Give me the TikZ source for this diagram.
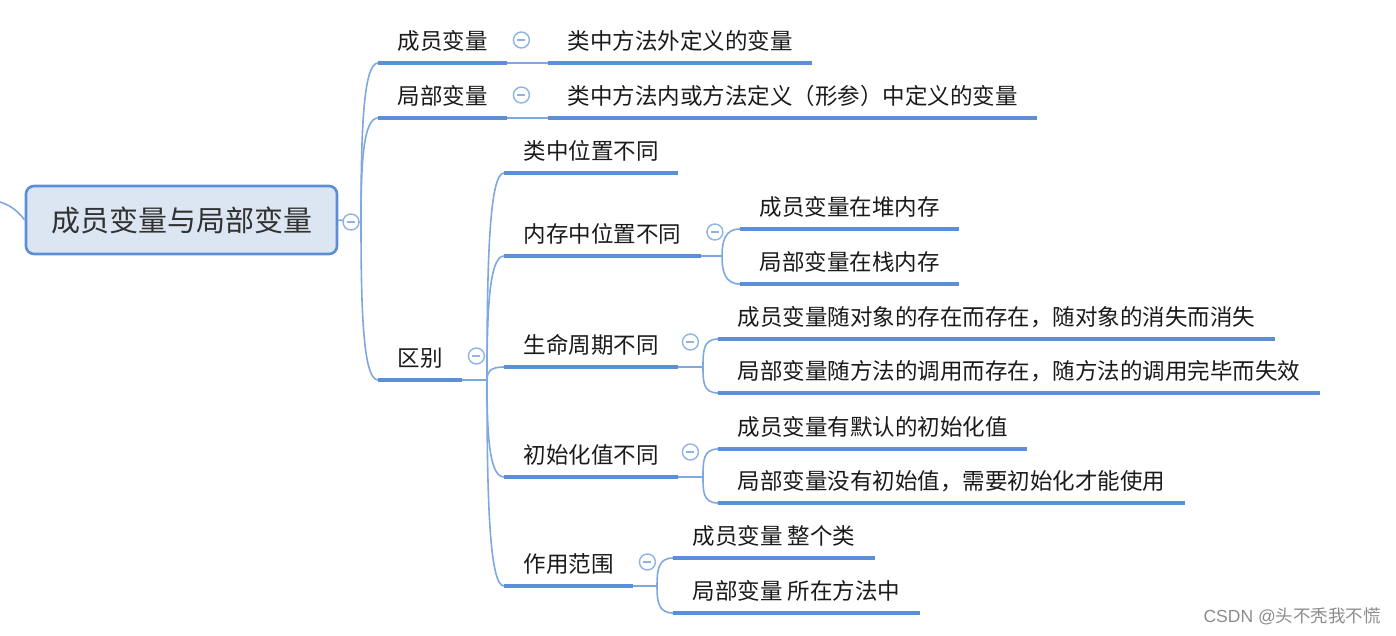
\documentclass[tikz,border=0pt]{standalone}
\usepackage{fontspec}
\setmainfont{Noto Sans CJK SC}
\newfontfamily\latinwm{Liberation Sans}
\usetikzlibrary{calc}
\definecolor{ulblue}{HTML}{5B8FD6}
\definecolor{lnblue}{HTML}{7FA8E0}
\definecolor{rootfill}{HTML}{DCE6F2}
\definecolor{rootdraw}{HTML}{5B8ED6}
\definecolor{txt}{HTML}{1A1A1A}
\definecolor{icon}{HTML}{8FB3E3}
\begin{document}
\begin{tikzpicture}[x=1pt,y=-1pt,
  topic/.style={anchor=south west, inner xsep=19.5pt, inner ysep=0pt,
    text height=18pt, text depth=13.6pt,
    font=\fontsize{22.5}{27}\selectfont, text=txt},
  rootbox/.style={rectangle, rounded corners=8pt, fill=rootfill, draw=rootdraw,
    line width=2.6pt, minimum width=311pt, minimum height=68pt,
    font=\fontsize{29}{34}\selectfont, text=txt!90},
  ul/.style={draw=ulblue, line width=4.5pt},
  conn/.style={draw=lnblue, line width=1.6pt},
  branch/.style={to path={.. controls ($(\tikztostart)!0.55!(\tikztostart|-\tikztotarget)$) and ($(\tikztotarget)+(-15,0)$) .. (\tikztotarget)}},
  fold/.style={circle, draw=icon, fill=white, line width=1.4pt, minimum size=16pt,
    inner sep=0pt, path picture={\draw[icon, line width=1.4pt]
      ([xshift=-4pt]path picture bounding box.center) --
      ([xshift=4pt]path picture bounding box.center);}},
  wmark/.style={anchor=east, text=black!45, font=\fontsize{17.5}{20}\selectfont, inner sep=0pt}
]
\useasboundingbox (0,0) rectangle (1396,636);

% root
\node[rootbox] (root) at (181.5,220) {成员变量与局部变量};
\coordinate (lin) at (0,202);

% level 1
\node[topic] (a1) at (378,63) {成员变量};
\node[topic] (a2) at (378,118) {局部变量};
\node[topic] (a3) at (378,380) {区别};
\node[topic] (b1) at (548,63) {类中方法外定义的变量};
\node[topic] (b2) at (548,118) {类中方法内或方法定义（形参）中定义的变量};

% level 2
\node[topic] (c1) at (504,173) {类中位置不同};
\node[topic] (c2) at (504,256) {内存中位置不同};
\node[topic] (c3) at (504,367) {生命周期不同};
\node[topic] (c4) at (504,477) {初始化值不同};
\node[topic] (c5) at (504,586) {作用范围};

% level 3
\node[topic] (d1) at (740,229) {成员变量在堆内存};
\node[topic] (d2) at (740,284) {局部变量在栈内存};
\node[topic] (e1) at (718,339) {成员变量随对象的存在而存在，随对象的消失而消失};
\node[topic] (e2) at (718,393) {局部变量随方法的调用而存在，随方法的调用完毕而失效};
\node[topic] (f1) at (718,449) {成员变量有默认的初始化值};
\node[topic] (f2) at (718,503) {局部变量没有初始值，需要初始化才能使用};
\node[topic] (g1) at (673,558) {成员变量 整个类};
\node[topic] (g2) at (673,613) {局部变量 所在方法中};

% underlines
\foreach \n in {a1,a2,a3,b1,b2,c1,c2,c3,c4,c5,d1,d2,e1,e2,f1,f2,g1,g2}
  \draw[ul] (\n.south west) -- (\n.south east);

% junctions
\coordinate (j0) at (361,222);
\coordinate (j3) at (487,380);
\coordinate (j4) at (722,256);
\coordinate (j5) at (703,367);
\coordinate (j6) at (703,477);
\coordinate (j7) at (657,586);

% connectors
\draw[conn] (lin) .. controls (13,206) and (20,214) .. (root.west);
\draw[conn] (root.east) -- (j0);
\draw[conn] (j0) to[branch] (a1.south west);
\draw[conn] (j0) to[branch] (a2.south west);
\draw[conn] (j0) to[branch] (a3.south west);
\draw[conn] (a1.south east) -- (b1.south west);
\draw[conn] (a2.south east) -- (b2.south west);
\draw[conn] (a3.south east) -- (j3);
\foreach \n in {c1,c2,c3,c4,c5} \draw[conn] (j3) to[branch] (\n.south west);
\draw[conn] (c2.south east) -- (j4);
\draw[conn] (j4) to[branch] (d1.south west);
\draw[conn] (j4) to[branch] (d2.south west);
\draw[conn] (c3.south east) -- (j5);
\draw[conn] (j5) to[branch] (e1.south west);
\draw[conn] (j5) to[branch] (e2.south west);
\draw[conn] (c4.south east) -- (j6);
\draw[conn] (j6) to[branch] (f1.south west);
\draw[conn] (j6) to[branch] (f2.south west);
\draw[conn] (c5.south east) -- (j7);
\draw[conn] (j7) to[branch] (g1.south west);
\draw[conn] (j7) to[branch] (g2.south west);

% fold icons
\node[fold] (fr) at (351,222) {};
\node[fold] (fa1) at ($(a1.south east)+(14,-23)$) {};
\node[fold] (fa2) at ($(a2.south east)+(14,-23)$) {};
\node[fold] (fa3) at ($(a3.south east)+(14,-24)$) {};
\node[fold] (fc2) at ($(c2.south east)+(14,-24)$) {};
\node[fold] (fc3) at ($(c3.south east)+(12,-25)$) {};
\node[fold] (fc4) at ($(c4.south east)+(12,-25)$) {};
\node[fold] (fc5) at ($(c5.south east)+(14,-24)$) {};

% watermark
\node[wmark] (wm) at (1381,616) {{\latinwm CSDN @}头不秃我不慌};
\end{tikzpicture}
\end{document}
